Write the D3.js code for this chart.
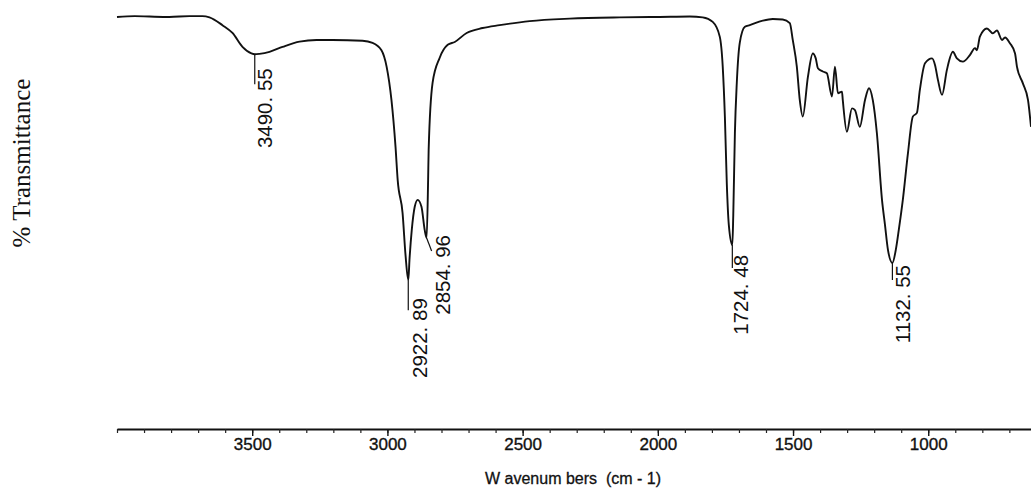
<!DOCTYPE html>
<html>
<head>
<meta charset="utf-8">
<script src="https://cdn.jsdelivr.net/npm/d3@7"></script>
<style>
  body { margin: 0; background: #fff; }
  svg { display: block; }
  .tick text { font-family: "Liberation Sans", Arial, sans-serif; }
</style>
</head>
<body>
<svg id="canvas" width="1031" height="490"></svg>
<script>
// spectrum: wavenumber (cm-1) and % transmittance
let wavenumbers = [4000, 3935, 3880, 3806, 3732, 3684, 3658, 3610, 3573, 3536, 3503, 3490.55, 3473, 3436, 3388,
  3325, 3262, 3203, 3092, 3055, 3022, 3003, 2985, 2970, 2962, 2944, 2933, 2922.89, 2918, 2910, 2899, 2888, 2874,
  2862, 2854.96, 2849.5, 2847.5, 2833, 2807, 2777, 2751, 2707, 2648, 2585, 2474, 2326, 2141, 1993, 1882, 1834,
  1797, 1771, 1760, 1752, 1745, 1737.5, 1724.48, 1721, 1715, 1708, 1697, 1678, 1660, 1612, 1575, 1538, 1512,
  1501, 1486, 1475, 1464, 1445, 1427, 1416, 1408, 1390, 1375, 1356, 1345, 1334, 1319, 1316, 1301, 1282, 1271,
  1253, 1234, 1219, 1205, 1190, 1171, 1160, 1149, 1132.55, 1120, 1108, 1094, 1075, 1057, 1042, 1031, 1012, 986,
  975, 964, 949, 931, 909, 894, 872, 846, 827, 820, 809, 783, 761, 746, 727, 716, 698, 679, 672, 650, 631, 620]

let transmittance = [98.3, 98.5, 98.4, 98.3, 98.5, 98.5, 98.2, 96.3, 94.4, 91.0, 89.4, 89.2, 89.3, 89.8, 91.0,
  92.3, 92.7, 92.7, 92.5, 92.0, 90.2, 86.2, 78.0, 66.6, 58.5, 50.5, 40.2, 34.1, 39.5, 46.3, 52.0, 53.7, 52.0,
  46.3, 44.4, 58.5, 65.9, 82.2, 88.3, 91.5, 92.2, 94.4, 95.6, 96.3, 97.3, 97.9, 98.2, 98.3, 98.4, 98.2,
  97.1, 93.5, 86.2, 73.9, 57.8, 47.6, 42.7, 50.0, 70.0, 82.2, 92.0, 95.9, 96.3, 97.4, 97.8, 97.7, 96.8,
  92.7, 86.2, 78.0, 74.0, 83.7, 89.4, 88.2, 85.8, 85.0, 84.6, 78.9, 86.2, 79.7, 80.1, 78.0, 70.3, 76.0, 75.6,
  71.5, 78.0, 80.9, 78.0, 70.0, 53.7, 47.6, 41.5, 38.3, 41.5, 46.8, 53.7, 65.1, 74.0, 74.9, 80.5, 87.0, 88.2,
  86.6, 82.9, 79.3, 85.4, 89.8, 88.2, 87.4, 89.0, 90.7, 90.2, 93.5, 95.5, 94.3, 95.0, 92.7, 93.3, 91.9, 89.4, 86.2, 82.1, 78.0, 71.5]

// labelled peaks
let peakPositions = [3490.55, 2922.89, 2854.96, 1724.48, 1132.55]
let peakValues = [89.2, 34.1, 44.4, 42.7, 38.3]
let peakLabels = ['3490. 55', '2922. 89', '2854. 96', '1724. 48', '1132. 55']

let majorTicks = [3500, 3000, 2500, 2000, 1500, 1000]
let minorTicks = d3.range(4000, 600, -100)

let canvas = d3.select('#canvas')

let xScale = d3.scaleLinear().domain([4000, 620]).range([117, 1031])
let yScale = d3.scaleLinear().domain([0, 100]).range([420, 10])
let axisY = 429

let spectrum = wavenumbers.map((w, i) => [w, transmittance[i]])

let line = d3.line()
  .x(d => xScale(d[0]))
  .y(d => yScale(d[1]))
  .curve(d3.curveMonotoneX)

canvas.append('path')
  .datum(spectrum)
  .attr('d', line)
  .attr('fill', 'none')
  .attr('stroke', '#111')
  .attr('stroke-width', 1.9)
  .attr('stroke-linejoin', 'round')

// minor ticks first, then the labelled ones
canvas.append('g')
  .attr('transform', `translate(0,${axisY})`)
  .call(d3.axisBottom(xScale).tickValues(minorTicks).tickSize(4).tickSizeOuter(0).tickFormat(''))
  .call(g => g.select('.domain').attr('stroke', '#111').attr('stroke-width', 2.2))
  .call(g => g.selectAll('.tick line').attr('stroke', '#222').attr('stroke-width', 1.2))

canvas.append('g')
  .attr('transform', `translate(0,${axisY})`)
  .call(d3.axisBottom(xScale).tickValues(majorTicks).tickSize(7).tickPadding(2).tickSizeOuter(0).tickFormat(d3.format('d')))
  .call(g => g.select('.domain').remove())
  .call(g => g.selectAll('.tick line').attr('stroke', '#111').attr('stroke-width', 1.4))
  .call(g => g.selectAll('.tick text').attr('font-size', 17).attr('fill', '#111')
    .attr('stroke', '#111').attr('stroke-width', 0.35))

canvas.append('text')
  .attr('x', 573)
  .attr('y', 484)
  .attr('text-anchor', 'middle')
  .attr('font-family', '"Liberation Sans", Arial, sans-serif')
  .attr('font-size', 16)
  .attr('fill', '#111')
  .attr('stroke', '#111')
  .attr('stroke-width', 0.3)
  .attr('xml:space', 'preserve')
  .text('W avenum bers  (cm - 1)')

canvas.append('text')
  .attr('transform', 'translate(30,163) rotate(-90)')
  .attr('text-anchor', 'middle')
  .attr('font-family', '"Liberation Serif", "Times New Roman", serif')
  .attr('font-size', 25)
  .attr('fill', '#111')
  .text('% Transmittance')

// peak markers: a short drop line and a vertical label beside it
// per-peak layout: drop length, label shift right, label top relative to the peak
let markLayout = {
  3490.55: { drop: 30, dx: 17, top: 14 },
  2922.89: { drop: 30, dx: 18.5, top: 18 },
  2854.96: { drop: 13, dx: 23, top: -3, lean: 5 },
  1724.48: { drop: 23, dx: 16, top: 10 },
  1132.55: { drop: 17, dx: 17.5, top: 2 }
}

let peaks = peakPositions.map((w, i) => ({ w: w, t: peakValues[i], label: peakLabels[i] }))

let marks = canvas.selectAll('.peak')
  .data(peaks)
  .enter()
  .append('g')
  .attr('class', 'peak')

marks.append('line')
  .attr('x1', d => xScale(d.w))
  .attr('y1', d => yScale(d.t))
  .attr('x2', d => xScale(d.w) + (markLayout[d.w].lean || 0))
  .attr('y2', d => yScale(d.t) + markLayout[d.w].drop)
  .attr('stroke', '#111')
  .attr('stroke-width', 1.2)

marks.append('text')
  .attr('transform', d => {
    let m = markLayout[d.w]
    return `translate(${xScale(d.w) + m.dx},${yScale(d.t) + m.top}) rotate(-90)`
  })
  .attr('text-anchor', 'end')
  .attr('font-family', '"Liberation Sans", Arial, sans-serif')
  .attr('font-size', 20.5)
  .attr('fill', '#111')
  .attr('xml:space', 'preserve')
  .text(d => d.label)
</script>
</body>
</html>
